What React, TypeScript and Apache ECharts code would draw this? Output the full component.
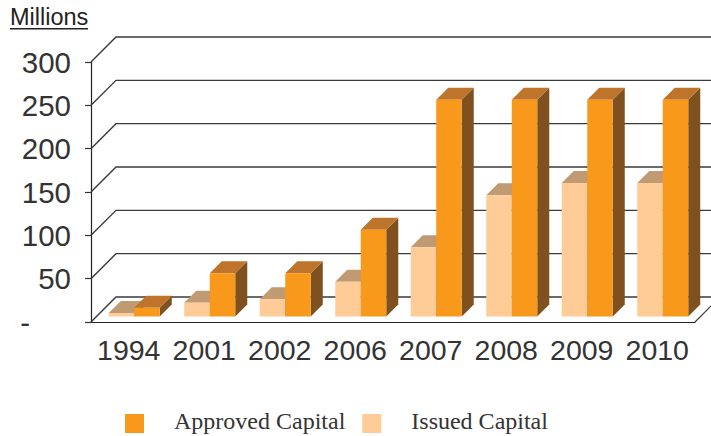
import React, { useEffect, useRef } from "react";
import * as echarts from "echarts";

const categories = ["1994", "2001", "2002", "2006", "2007", "2008", "2009", "2010"];
const approvedCapital = [10, 50, 50, 100, 250, 250, 250, 250];
const issuedCapital = [4, 16, 20, 40, 80, 140, 154, 154];
const valueTicks = [0, 50, 100, 150, 200, 250, 300];

const WALL = 25;
const FLOOR = 5.5;
const DEPTH = 12;
const HALF = 25.5;

const approvedColors = { front: "#F9991C", top: "#BE742A", side: "#7F511E" };
const issuedColors = { front: "#FFCB96", top: "#C09A73", side: "#8F6F4C" };

function barRenderer(colors: any, column: number) {
  return (params: any, api: any) => {
    const i = api.value(0);
    const v = api.value(1);
    const c = api.coord([i, v]);
    const b = api.coord([i, 0]);
    const x0 = c[0] + FLOOR + column * HALF;
    const x1 = x0 + HALF;
    const yt = c[1] - FLOOR;
    const yb = b[1] - FLOOR;
    return {
      type: "group",
      children: [
        { type: "polygon", shape: { points: [[x1, yt], [x1 + DEPTH, yt - DEPTH], [x1 + DEPTH, yb - DEPTH], [x1, yb]] }, style: { fill: colors.side } },
        { type: "polygon", shape: { points: [[x0, yt], [x0 + DEPTH, yt - DEPTH], [x1 + DEPTH, yt - DEPTH], [x1, yt]] }, style: { fill: colors.top } },
        { type: "rect", shape: { x: x0, y: yt, width: HALF, height: yb - yt }, style: { fill: colors.front } },
      ],
    };
  };
}

function wallRenderer(params: any, api: any) {
  const v = api.value(0);
  const p = api.coord([0, v]);
  const cs = params.coordSys;
  const x = cs.x;
  const y = p[1];
  const children: any[] = [
    {
      type: "polyline",
      shape: { points: [[x, y], [x + WALL, y - WALL], [x + cs.width + WALL, y - WALL]] },
      style: { stroke: "#3a3a3a", lineWidth: 1.4, fill: "none" },
    },
  ];
  if (v === 0) {
    children.push({
      type: "line",
      shape: { x1: x + cs.width, y1: y, x2: x + cs.width + WALL, y2: y - WALL },
      style: { stroke: "#3a3a3a", lineWidth: 1.2 },
    });
  }
  return { type: "group", children };
}

export default function App() {
  const ref = useRef<HTMLDivElement>(null);
  useEffect(() => {
    document.body.style.margin = "0";
    const chart = echarts.init(ref.current!, null, { renderer: "svg" });
    chart.setOption({
      animation: false,
      backgroundColor: "#fff",
      grid: { left: 91, top: 62, width: 604, height: 260, containLabel: false },
      graphic: [
        {
          type: "text",
          left: 10,
          top: 5,
          style: { text: "Millions", fill: "#222", font: "23.5px 'Liberation Sans'" },
        },
        { type: "rect", left: 10, top: 28, shape: { width: 78, height: 1.5 }, style: { fill: "#222" } },
      ],
      legend: {
        left: 120,
        top: 403,
        data: ["Approved Capital", "Issued Capital"],
        itemWidth: 19,
        itemHeight: 25,
        itemGap: 17,
        icon: "path://M0 0L0 0M0 6h19v19h-19z",
        selectedMode: false,
        textStyle: { fontFamily: "'Liberation Serif'", fontSize: 24, color: "#333", padding: [0, 0, 0, 25] },
      },
      xAxis: {
        type: "category",
        data: categories,
        boundaryGap: true,
        axisLine: { lineStyle: { color: "#222", width: 1.2 } },
        axisTick: { length: 6, alignWithLabel: false, lineStyle: { color: "#333", width: 1.2 } },
        axisLabel: { fontFamily: "'Liberation Sans'", fontSize: 28.5, color: "#333", margin: 13, interval: 0 },
        splitLine: { show: false },
      },
      yAxis: {
        type: "value",
        min: 0,
        max: 300,
        interval: 50,
        axisLine: { show: true, lineStyle: { color: "#222", width: 1.2 } },
        axisTick: { show: true, length: 6, lineStyle: { color: "#333", width: 1.2 } },
        axisLabel: {
          fontFamily: "'Liberation Sans'",
          fontSize: 29.5,
          color: "#333",
          margin: 20,
          formatter: (v: number) => (v === 0 ? "-     " : String(v)),
        },
        splitLine: { show: false },
      },
      series: [
        {
          type: "custom",
          name: "wall",
          silent: true,
          clip: false,
          coordinateSystem: "cartesian2d",
          encode: { y: 0 },
          data: valueTicks.map((v) => [v]),
          renderItem: wallRenderer,
          z: 1,
        },
        {
          type: "custom",
          name: "Issued Capital",
          clip: false,
          itemStyle: { color: issuedColors.front },
          encode: { x: 0, y: 1 },
          data: issuedCapital.map((v, i) => [i, v]),
          renderItem: barRenderer(issuedColors, -1),
          z: 2,
        },
        {
          type: "custom",
          name: "Approved Capital",
          clip: false,
          itemStyle: { color: approvedColors.front },
          encode: { x: 0, y: 1 },
          data: approvedCapital.map((v, i) => [i, v]),
          renderItem: barRenderer(approvedColors, 0),
          z: 3,
        },
      ],
    });
    return () => chart.dispose();
  }, []);
  return <div ref={ref} style={{ width: 711, height: 436 }} />;
}
